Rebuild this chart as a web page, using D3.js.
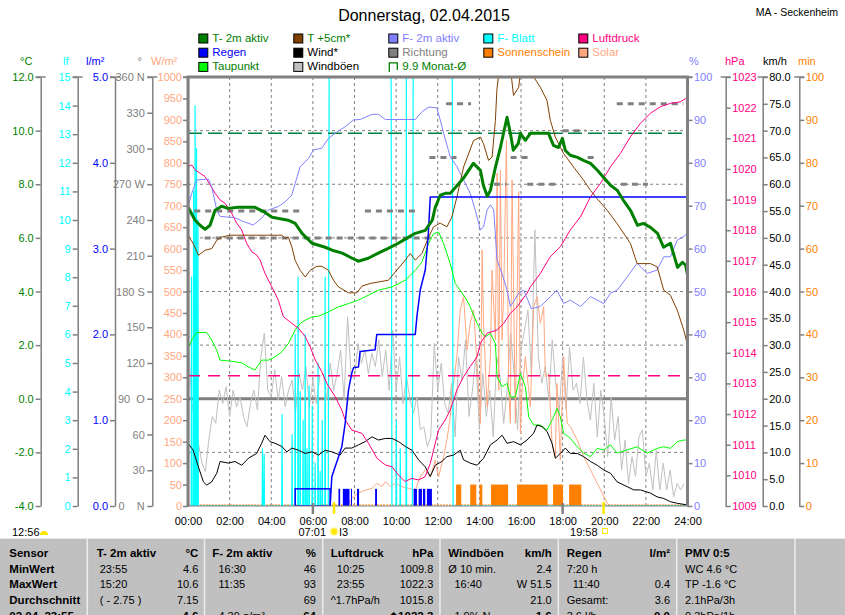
<!DOCTYPE html>
<html>
<head>
<meta charset="utf-8">
<script src="https://cdn.jsdelivr.net/npm/d3@7"></script>
<style>
body { margin: 0; background: #fff; }
svg text { font-family: "Liberation Sans", Arial, sans-serif; white-space: pre; }
</style>
</head>
<body>
<svg id="chart" width="845" height="615"></svg>
<script>
// ---- data (time in hours) ----
var hourTicks = [0, 2, 4, 6, 8, 10, 12, 14, 16, 18, 20, 22, 24];
var tempTicks = [-4, -2, 0, 2, 4, 6, 8, 10, 12];
var leafTicks = [0, 1, 2, 3, 4, 5, 6, 7, 8, 9, 10, 11, 12, 13, 14, 15];
var rainTicks = [0, 1, 2, 3, 4, 5];
var dirTicks = [0, 30, 60, 90, 120, 150, 180, 210, 240, 270, 300, 330, 360];
var solarTicks = [0, 50, 100, 150, 200, 250, 300, 350, 400, 450, 500, 550, 600, 650, 700, 750, 800, 850, 900, 950, 1000];
var pctTicks = [0, 10, 20, 30, 40, 50, 60, 70, 80, 90, 100];
var hpaTicks = [1009, 1010, 1011, 1012, 1013, 1014, 1015, 1016, 1017, 1018, 1019, 1020, 1021, 1022, 1023];
var kmhTicks = [0, 5, 10, 15, 20, 25, 30, 35, 40, 45, 50, 55, 60, 65, 70, 75, 80];
var minTicks = [0, 10, 20, 30, 40, 50, 60, 70, 80, 90, 100];
var compass = {0: "    N", 90: "  O", 180: " S", 270: " W", 360: " N"};

var t2m = [[0.00,7.15],[0.34,6.66],[0.58,6.47],[0.82,6.32],[1.06,6.47],[1.30,7.03],[1.62,7.18],[1.92,7.10],[2.41,7.14],[3.22,7.14],[3.70,6.95],[4.04,6.77],[4.81,6.66],[5.15,6.54],[5.48,6.17],[5.96,5.80],[6.59,5.65],[6.93,5.54],[7.41,5.43],[7.89,5.24],[8.18,5.13],[8.66,5.24],[9.14,5.43],[9.62,5.61],[10.10,5.80],[10.58,6.02],[10.92,6.17],[11.40,6.28],[11.74,6.66],[11.88,7.14],[12.12,7.59],[12.36,7.66],[12.60,7.66],[12.94,7.96],[13.23,8.22],[13.71,8.78],[14.05,8.52],[14.19,7.96],[14.38,7.55],[14.53,7.77],[14.77,8.63],[15.01,9.37],[15.33,10.5],[15.49,9.90],[15.63,9.27],[15.87,9.52],[15.97,9.90],[16.21,9.64],[16.45,9.90],[16.93,9.90],[17.32,9.90],[17.56,9.45],[17.80,9.37],[17.99,9.71],[18.13,9.26],[18.37,9.08],[18.71,9.00],[19.00,8.89],[19.34,8.78],[19.67,8.52],[19.96,8.26],[20.30,7.96],[20.63,7.77],[20.92,7.40],[21.26,7.03],[21.60,6.47],[21.88,6.54],[22.22,6.39],[22.56,6.17],[22.85,5.65],[23.18,5.80],[23.52,4.90],[23.76,5.09],[23.91,4.98],[24.00,4.62]];

var t5cm = [[0.00,6.10],[0.25,5.79],[0.50,5.35],[0.82,5.54],[1.14,5.60],[1.38,5.91],[1.62,6.03],[2.02,6.10],[4.51,6.10],[4.67,5.98],[4.82,6.03],[4.99,5.66],[5.15,5.16],[5.39,4.79],[5.63,4.54],[5.87,4.79],[6.19,4.94],[6.43,4.94],[6.75,4.79],[6.99,4.42],[7.23,4.17],[7.71,3.95],[8.11,3.95],[8.36,4.20],[8.75,4.30],[9.63,4.42],[9.96,4.73],[10.44,5.17],[10.68,5.42],[10.92,5.17],[11.24,5.42],[11.56,6.03],[11.80,6.41],[12.12,6.55],[12.44,6.41],[12.68,6.78],[12.92,7.52],[13.24,8.64],[13.72,9.63],[14.05,9.76],[14.20,9.51],[14.44,8.89],[14.61,9.01],[14.77,10.38],[14.84,11.50],[15.00,12.6],[15.25,13.0],[15.50,12.3],[15.64,11.31],[15.89,11.62],[16.00,12.4],[16.30,13.0],[16.61,12.0],[16.93,11.62],[17.25,11.12],[17.41,10.38],[17.65,9.76],[17.89,9.38],[18.05,9.14],[18.53,8.64],[19.01,8.15],[19.34,7.77],[19.66,7.46],[20.14,7.03],[20.62,6.53],[21.26,5.79],[21.58,5.04],[22.22,5.04],[22.54,4.92],[22.86,4.05],[23.18,3.86],[23.51,3.30],[23.82,2.56],[24.00,2.00]];

var humidity = [[0.00,69.8],[0.18,72.9],[0.42,76.0],[0.98,76.2],[1.14,74.4],[1.38,69.0],[1.54,67.5],[2.26,67.2],[2.66,66.3],[3.14,65.5],[3.54,67.1],[3.86,69.0],[4.34,69.8],[4.67,70.9],[4.99,72.5],[5.15,75.2],[5.39,79.1],[5.79,81.0],[6.03,83.0],[6.43,83.4],[6.75,85.7],[7.07,86.9],[7.55,88.4],[7.95,90.0],[8.27,90.1],[8.84,91.3],[9.15,91.3],[9.48,90.1],[10.92,90.1],[11.24,91.9],[11.58,93.0],[11.96,92.8],[12.12,90.0],[12.28,86.9],[12.60,81.4],[12.92,79.1],[13.24,76.0],[13.56,72.9],[13.80,69.0],[14.05,64.3],[14.20,65.1],[14.37,69.0],[14.53,70.2],[14.69,69.0],[14.85,57.3],[15.09,54.2],[15.33,50.3],[15.49,46.5],[15.89,49.6],[16.13,50.3],[16.50,46.0],[16.93,46.5],[17.41,48.8],[17.73,50.3],[18.05,47.2],[18.37,48.0],[18.86,46.5],[19.34,48.8],[19.98,47.2],[20.30,49.6],[20.62,50.3],[21.10,53.4],[21.58,56.6],[22.06,54.2],[22.54,55.0],[22.86,58.1],[23.18,58.1],[23.51,62.0],[23.82,62.8],[24.00,63.6]];

var pressure = [[0.00,1020.07],[0.18,1020.13],[0.34,1019.97],[0.58,1019.86],[0.82,1019.75],[1.06,1019.48],[1.30,1019.21],[1.54,1018.99],[1.78,1018.88],[2.10,1018.55],[2.34,1018.23],[2.58,1018.01],[2.82,1017.57],[3.06,1017.30],[3.30,1017.19],[3.46,1017.03],[3.70,1016.59],[4.02,1016.16],[4.34,1015.72],[4.58,1015.18],[4.99,1014.96],[5.31,1014.80],[5.63,1014.53],[5.87,1014.20],[6.11,1013.77],[6.43,1013.38],[6.67,1013.00],[7.07,1012.57],[7.39,1012.13],[7.55,1011.81],[7.87,1011.48],[8.36,1011.37],[8.67,1011.05],[9.08,1010.56],[9.48,1010.34],[9.80,1010.28],[10.12,1010.01],[10.42,1009.80],[10.76,1009.90],[11.08,1009.85],[11.40,1009.96],[11.64,1010.39],[12.04,1011.48],[12.36,1011.81],[12.60,1012.13],[12.92,1012.79],[13.24,1013.22],[13.56,1013.55],[13.89,1013.87],[14.05,1014.31],[14.37,1014.64],[14.85,1014.74],[15.17,1014.96],[15.49,1015.29],[15.81,1015.50],[16.29,1015.94],[16.45,1016.15],[16.93,1016.59],[17.41,1017.14],[17.89,1017.46],[18.37,1018.01],[18.86,1018.44],[19.34,1019.09],[19.82,1019.53],[20.30,1020.07],[20.78,1020.51],[21.26,1021.05],[21.74,1021.49],[22.22,1021.82],[22.70,1022.03],[23.18,1022.14],[23.66,1022.19],[23.92,1022.30]];

var dewPoint = [[0.00,1.88],[0.18,2.19],[0.42,2.47],[0.90,2.47],[1.14,2.19],[1.38,1.81],[1.54,1.44],[2.10,1.40],[2.58,1.34],[2.90,1.19],[3.22,1.07],[3.54,1.44],[3.86,1.44],[4.18,1.56],[4.51,1.75],[4.82,2.06],[5.15,2.56],[5.39,2.81],[5.63,2.93],[5.95,3.05],[6.27,3.08],[6.75,3.24],[7.23,3.43],[7.71,3.55],[8.19,3.68],[8.51,3.80],[9.15,4.05],[9.80,4.17],[10.44,4.42],[10.92,4.79],[11.24,5.10],[11.56,5.79],[11.80,6.16],[12.04,6.22],[12.28,5.79],[12.60,5.04],[12.84,4.30],[13.08,4.05],[13.40,3.68],[13.56,3.43],[13.89,2.81],[14.13,2.44],[14.29,2.31],[14.53,2.44],[14.77,2.06],[14.85,0.82],[15.09,0.45],[15.33,0.57],[15.49,0.07],[15.73,0.07],[15.97,0.95],[16.21,0.45],[16.37,-0.67],[16.61,-0.98],[16.93,-0.98],[17.25,-1.17],[17.57,-0.67],[17.73,-0.36],[17.89,-0.67],[18.05,-1.29],[18.37,-1.47],[18.70,-1.79],[19.01,-2.03],[19.34,-2.16],[19.66,-1.85],[19.98,-1.91],[20.30,-1.72],[20.62,-2.03],[21.10,-1.91],[21.58,-1.79],[22.06,-2.03],[22.54,-1.85],[22.86,-1.79],[23.18,-1.85],[23.51,-1.60],[23.82,-1.54],[24.00,-1.54]];

var wind = [[0.00,11.7],[0.25,10.4],[0.50,7.3],[0.74,4.5],[0.90,3.9],[1.14,4.5],[1.38,6.1],[1.54,8.3],[1.94,8.0],[2.26,8.3],[2.58,7.6],[2.90,8.9],[3.30,9.8],[3.54,11.7],[3.70,13.2],[3.94,12.0],[4.18,11.7],[4.51,11.1],[4.75,10.1],[4.99,10.8],[5.31,10.4],[5.63,9.8],[5.95,10.1],[6.27,9.5],[6.59,10.4],[6.91,10.1],[7.31,9.5],[7.55,10.8],[7.87,10.8],[8.19,11.4],[8.51,12.0],[8.84,12.9],[9.15,12.3],[9.48,12.6],[9.80,12.6],[10.12,12.0],[10.44,11.1],[10.76,10.4],[11.08,8.6],[11.40,7.3],[11.64,5.5],[11.88,7.6],[12.20,8.3],[12.44,9.2],[12.76,9.5],[13.08,10.4],[13.24,8.6],[13.56,8.0],[13.89,7.6],[14.20,8.9],[14.53,11.4],[14.85,12.3],[15.09,13.2],[15.33,11.7],[15.65,12.0],[15.97,11.4],[16.29,12.3],[16.61,13.6],[16.77,15.1],[17.01,14.8],[17.25,13.9],[17.49,11.7],[17.65,8.9],[17.89,9.8],[18.13,10.8],[18.37,9.8],[18.70,9.8],[19.01,9.2],[19.34,8.3],[19.66,7.6],[19.98,6.7],[20.30,6.1],[20.62,4.5],[21.10,3.6],[21.42,3.0],[21.74,3.0],[22.22,2.4],[22.54,1.7],[22.86,1.4],[23.18,0.8],[23.51,0.5],[23.99,0.2]];

// gusts, one value every 10 minutes from 00:00
var gustStepMin = 10;
var gusts = [32.2,19.8,15.4,11.7,8.0,6.4,12.3,16.7,15.4,21.6,19.1,22.3,16.7,21.6,18.5,20.4,16.7,14.8,19.1,21.6,17.9,27.8,32.2,21.6,
  20.4,25.4,19.8,24.1,18.5,21.6,23.5,17.3,24.7,21.6,26.0,18.5,23.5,19.1,24.1,24.7,19.8,26.6,21.6,24.7,29.1,19.8,35.3,24.7,
  23.5,30.3,26.6,29.1,24.7,28.5,26.0,31.0,24.1,29.1,21.6,32.8,21.6,27.8,19.1,24.1,19.8,17.3,20.4,14.2,14.8,11.1,12.9,
  30.3,21.6,26.6,19.1,
  17.3,22.9,12.9,27.8,23.5,31.0,16.7,21.6,27.8,14.2,24.7,16.7,21.6,12.9,27.8,
  24.1,15.4,21.6,32.2,24.7,14.2,29.1,32.8,36.5,24.7,51.5,27.8,22.9,26.0,19.8,31.0,22.9,17.3,27.8,17.9,29.7,21.6,22.9,19.1,
  27.8,19.8,16.0,22.9,12.9,21.6,16.7,9.2,20.4,12.3,16.7,6.7,12.3,4.2,9.2,5.5,12.9,14.2,5.5,8.0,3.0,10.4,3.0,8.0,
  3.0,6.7,1.7,4.2,3.0,4.2];

var solar = [[0,0],[7.70,0],[7.87,18],[8.19,30],[8.51,37],[8.84,41],[9.08,53],[9.32,45],[9.48,57],[9.72,45],[9.96,53],[10.28,45],[10.60,41],[10.92,37],[11.16,68],[11.40,84],[11.64,68],[11.80,92],[11.88,107],[12.04,68],[12.28,115],[12.44,154],[12.60,208],[12.68,270],[12.76,286],[12.92,348],[13.08,457],[13.24,488],[13.41,364],[13.56,426],[13.72,457],[13.89,333],[14.05,193],[14.13,597],[14.20,426],[14.37,231],[14.53,348],[14.61,550],[14.77,387],[14.85,776],[14.93,270],[15.01,783],[15.09,387],[15.17,500],[15.30,853],[15.41,270],[15.49,193],[15.57,760],[15.73,193],[15.89,733],[15.97,169],[16.05,270],[16.21,348],[16.45,231],[16.61,465],[16.77,488],[16.93,426],[17.09,465],[17.17,301],[17.33,309],[17.49,146],[17.65,115],[17.73,286],[17.89,107],[18.05,348],[18.22,193],[18.37,185],[18.70,154],[19.01,115],[19.34,84],[19.66,53],[19.98,22],[20.14,6],[20.30,0],[24,0]];

// rain: cumulative l/m², rain periods, light-rain period
var rainSum = [[6.83,0],[6.91,0.34],[6.99,0.40],[7.23,0.57],[7.39,0.69],[7.55,0.96],[7.71,1.35],[7.87,1.55],[7.95,1.61],[8.19,1.62],[8.27,1.80],[8.99,1.82],[9.07,2.00],[10.92,2.00],[11.00,2.21],[11.16,2.52],[11.40,2.75],[11.54,3.14],[11.64,3.60],[24,3.60]];
var rainBars = [[7.23,7.31],[7.44,7.76],[7.83,7.88],[8.12,8.22],[8.99,9.08],[10.84,11.00],[11.08,11.24],[11.29,11.40],[11.48,11.72]];
var rainBox = [5.15, 6.83];
var rainBarValue = 0.2;

// sunshine minutes per 5 min slot
var sunBars = [[12.88,13.13],[13.56,13.85],[14.01,14.14],[14.56,15.38],[15.81,17.28],[17.54,18.02],[18.31,18.90]];
var sunBarValue = 5;

// leaf wetness: single spikes and wet periods (lf)
var leafSpikeT = [0.17,0.27,0.34,0.41,0.48,3.58,3.66,4.52,5.00,5.15,5.29,5.39,5.53,5.63,5.72,5.82,5.97,6.11,6.25,6.35,6.45,6.59,10.01,10.20,10.49];
var leafSpikeV = [8,11,14,12.5,10,2,1.8,3.2,2.5,6,8,4,3,6,2,4.2,3.5,1.5,5,1.2,3,8,3,2,15];
var leafWet = [[6.78,9.76],[10.82,12.70]];

// wind direction segments [from, to, degrees]
var dirSegs = [[0.3,5.5,247.5],[8.5,11.0,247.5],[0.8,11.9,225],[11.6,12.9,292.5],[15.5,16.4,292.5],[19.2,19.7,292.5],[14.7,15.3,270],[16.3,17.7,270],[20.8,22.1,270],[18.0,19.1,315],[12.4,13.6,337.5],[20.6,23.8,337.5]];

var monthAvgT = 9.9;
var refPressure = 1013.25;
var sunrise = 7 + 1 / 60, sunset = 19 + 58 / 60;

var tblHead = ["Sensor", "T- 2m aktiv", "F- 2m aktiv", "Luftdruck", "Windböen", "Regen", "PMV 0:5"];
var tblUnit = ["", "°C", "%", "hPa", "km/h", "l/m²", ""];
var tblRows = [
  ["MinWert", " 23:55", "4.6", "  16:30", "46", "  10:25", "1009.8", "Ø 10 min.", "2.4", "7:20 h", "", "WC 4.6 °C"],
  ["MaxWert", " 15:20", "10.6", "  11:35", "93", "  23:55", "1022.3", "  16:40", "W 51.5", "  11:40", "0.4", "TP -1.6 °C"],
  ["Durchschnitt", " ( - 2.75 )", "7.15", "", "69", "^1.7hPa/h", "1015.8", "", "21.0", "Gesamt:", "3.6", "2.1hPa/3h"],
  ["02.04. 23:55", "", "4.6", "  4.39 g/m³", "64", "", "◆1022.3", "  1.9% N", "1.6", "3.6 l/h", "0.0", "0.3hPa/1h"]
];

var legNames = ["T- 2m aktiv", "T +5cm*", "F- 2m aktiv", "F- Blatt", "Luftdruck",
                "Regen", "Wind*", "Richtung", "Sonnenschein", "Solar",
                "Taupunkt", "Windböen", "9.9 Monat-Ø"];
var legFill = ["#008000", "#804000", "#8080FF", "#00FFFF", "#FF0080",
               "#0000FF", "#000000", "#808080", "#FF8000", "#FFA880",
               "#00FF00", "#C0C0C0", null];
var legInk = ["#008000", "#008000", "#8080FF", "#00FFFF", "#FF0080",
              "#0000FF", "#000000", "#808080", "#FF8000", "#FFA880",
              "#008000", "#000000", "#008000"];

// ---- scales ----
var pTop = 77, pBottom = 506, pLeft = 188, pRight = 687.5;
var x = d3.scaleLinear().domain([0, 24]).range([pLeft, pRight]);
var yT = d3.scaleLinear().domain([-4, 12]).range([pBottom, pTop]);
var yLf = d3.scaleLinear().domain([0, 15]).range([pBottom, pTop]);
var yRain = d3.scaleLinear().domain([0, 5]).range([pBottom, pTop]);
var yDir = d3.scaleLinear().domain([0, 360]).range([pBottom, pTop]);
var ySol = d3.scaleLinear().domain([0, 1000]).range([pBottom, pTop]);
var yPct = d3.scaleLinear().domain([0, 100]).range([pBottom, pTop]);
var yHpa = d3.scaleLinear().domain([1009, 1023]).range([pBottom, pTop]);
var yKmh = d3.scaleLinear().domain([0, 80]).range([pBottom, pTop]);
var yMin = d3.scaleLinear().domain([0, 100]).range([pBottom, pTop]);

var svg = d3.select("#chart");
var FONT = "'Liberation Sans', Arial, sans-serif";

function txt(g, px, py, s, color, size, anchor, weight) {
  return g.append("text").attr("x", px).attr("y", py).text(s)
    .attr("fill", color).attr("font-size", size)
    .attr("text-anchor", anchor || "start")
    .attr("font-weight", weight || "normal");
}

// ---- title ----
txt(svg, 424, 21, "Donnerstag, 02.04.2015", "#000", 16, "middle");
txt(svg, 838, 16, "MA - Seckenheim", "#000", 10.5, "end");

// ---- legend ----
legNames.forEach(function(name, i) {
  var lx = 198.3 + (i % 5) * 95, ly = 33.5 + Math.floor(i / 5) * 14.2;
  if (legFill[i]) {
    svg.append("rect").attr("x", lx + 0.5).attr("y", ly + 0.5).attr("width", 9).attr("height", 9)
      .attr("fill", legFill[i]).attr("stroke", "#000");
  } else {
    svg.append("path").attr("d", "M" + (lx + 1) + "," + (ly + 10) + "V" + (ly + 1) + "H" + (lx + 9) + "V" + (ly + 8))
      .attr("fill", "none").attr("stroke", "#008000").attr("stroke-width", 1.3);
  }
  txt(svg, lx + 14, ly + 8.5, name, legInk[i], 11.5);
});

// ---- axes ----
function vAxis(xPos, scale, ticks, fmt, color, side, pad) {
  var ax = (side === "left" ? d3.axisLeft(scale) : d3.axisRight(scale))
    .tickValues(ticks).tickFormat(fmt).tickSize(5).tickSizeOuter(0).tickPadding(pad);
  var g = svg.append("g").attr("transform", "translate(" + xPos + ",0)").call(ax)
    .attr("font-family", FONT).attr("font-size", 11);
  g.select(".domain").attr("stroke", "#808080").attr("stroke-width", 1.5);
  g.selectAll(".tick line").attr("stroke", "#808080").attr("stroke-width", 1.5);
  g.selectAll(".tick text").attr("fill", color);
  g.append("line").attr("x1", -5).attr("x2", 5).attr("y1", pTop).attr("y2", pTop)
    .attr("stroke", "#808080").attr("stroke-width", 1.5);
  return g;
}
var f1 = function(d) { return d.toFixed(1); };
var f0 = function(d) { return String(d); };
vAxis(40.7, yT, tempTicks, f1, "#008000", "left", 2);
vAxis(77.7, yLf, leafTicks, f0, "#00FFFF", "left", 2);
vAxis(115, yRain, rainTicks, f1, "#0000FF", "left", 2);
vAxis(152.3, yDir, dirTicks, function(d) { return d + (compass[d] || ""); }, "#808080", "left", 2.5);
vAxis(188, ySol, solarTicks, f0, "#FFA880", "left", 1);
vAxis(687.5, yPct, pctTicks, f0, "#8080FF", "right", 1.5);
vAxis(725.7, yHpa, hpaTicks, f0, "#FF0080", "right", 1.5);
vAxis(762.7, yKmh, kmhTicks, f1, "#000000", "right", 1.5);
vAxis(799.3, yMin, minTicks, f0, "#FF8000", "right", 1.5);

var heads = [[20, "°C", "#008000"], [63, "lf", "#00FFFF"], [86, "l/m²", "#0000FF"], [137.5, "°", "#808080"],
             [151, "W/m²", "#FFA880"], [689, "%", "#8080FF"], [725, "hPa", "#FF0080"],
             [763, "km/h", "#000000"], [798, "min", "#FF8000"]];
heads.forEach(function(h) { txt(svg, h[0], 65, h[1], h[2], 11); });

// x axis labels
var xg = svg.append("g").attr("transform", "translate(0," + pBottom + ")")
  .call(d3.axisBottom(x).tickValues(hourTicks).tickSize(0).tickPadding(11)
    .tickFormat(function(d) { return (d < 10 ? "0" : "") + d + ":00"; }))
  .attr("font-family", FONT).attr("font-size", 11);
xg.select(".domain").remove();
xg.selectAll(".tick text").attr("fill", "#000");

// ---- plot area ----
svg.append("clipPath").attr("id", "plot").append("rect")
  .attr("x", pLeft).attr("y", pTop).attr("width", pRight - pLeft).attr("height", pBottom - pTop);
var plot = svg.append("g").attr("clip-path", "url(#plot)");

// grid
plot.selectAll(".vgrid").data(hourTicks.slice(1, -1)).enter().append("line")
  .attr("x1", function(d) { return x(d); }).attr("x2", function(d) { return x(d); })
  .attr("y1", pTop).attr("y2", pBottom)
  .attr("stroke", "#808080").attr("stroke-dasharray", "3,3");
plot.selectAll(".hgrid").data(tempTicks.filter(function(d) { return d !== 0 && d > -4 && d < 12; })).enter().append("line")
  .attr("x1", pLeft).attr("x2", pRight)
  .attr("y1", function(d) { return yT(d); }).attr("y2", function(d) { return yT(d); })
  .attr("stroke", "#808080").attr("stroke-dasharray", "3,3");
plot.append("line").attr("x1", pLeft).attr("x2", pRight).attr("y1", yT(0)).attr("y2", yT(0))
  .attr("stroke", "#808080").attr("stroke-width", 3);

function drawLine(data, ys, color, width) {
  plot.append("path").datum(data)
    .attr("d", d3.line().x(function(d) { return x(d[0]); }).y(function(d) { return ys(d[1]); }))
    .attr("fill", "none").attr("stroke", color).attr("stroke-width", width)
    .attr("stroke-linejoin", "round");
}

// gusts
drawLine(gusts.map(function(v, j) { return [j * gustStepMin / 60, v]; }), yKmh, "#C0C0C0", 1);
// solar
drawLine(solar, ySol, "#FFA880", 1);
// sunshine bars
plot.selectAll(".sun").data(sunBars).enter().append("rect")
  .attr("x", function(d) { return x(d[0]); }).attr("width", function(d) { return x(d[1]) - x(d[0]); })
  .attr("y", yMin(sunBarValue)).attr("height", yMin(0) - yMin(sunBarValue))
  .attr("fill", "#FF8000");
plot.append("line").attr("x1", pLeft).attr("x2", pRight).attr("y1", pBottom - 1).attr("y2", pBottom - 1)
  .attr("stroke", "#FF8000").attr("stroke-dasharray", "2,1");

// leaf wetness
var leafPts = [[0, 0], [24, 0]];
leafSpikeT.forEach(function(t, i) { leafPts.push([t - 0.015, 0], [t, leafSpikeV[i]], [t + 0.015, 0]); });
leafWet.forEach(function(p) { leafPts.push([p[0] - 0.04, 0], [p[0], 15], [p[1], 15], [p[1] + 0.04, 0]); });
leafPts.sort(function(a, b) { return a[0] - b[0]; });
drawLine(leafPts, yLf, "#00FFFF", 1.2);

// rain bars
plot.selectAll(".rain").data(rainBars).enter().append("rect")
  .attr("x", function(d) { return x(d[0]); }).attr("width", function(d) { return x(d[1]) - x(d[0]); })
  .attr("y", yRain(rainBarValue)).attr("height", yRain(0) - yRain(rainBarValue))
  .attr("fill", "#0000FF");
plot.append("rect").attr("x", x(rainBox[0])).attr("width", x(rainBox[1]) - x(rainBox[0]))
  .attr("y", yRain(rainBarValue)).attr("height", yRain(0) - yRain(rainBarValue))
  .attr("fill", "none").attr("stroke", "#0000FF").attr("stroke-width", 1.5);

// wind direction
plot.selectAll(".dir").data(dirSegs).enter().append("line")
  .attr("x1", function(d) { return x(d[0]); }).attr("x2", function(d) { return x(d[1]); })
  .attr("y1", function(d) { return yDir(d[2]); }).attr("y2", function(d) { return yDir(d[2]); })
  .attr("stroke", "#808080").attr("stroke-width", 3).attr("stroke-dasharray", "6,5");

// reference lines
plot.append("line").attr("x1", pLeft).attr("x2", pRight).attr("y1", yT(monthAvgT)).attr("y2", yT(monthAvgT))
  .attr("stroke", "#008040").attr("stroke-width", 1.5).attr("stroke-dasharray", "14,6");
plot.append("line").attr("x1", pLeft).attr("x2", pRight).attr("y1", yHpa(refPressure)).attr("y2", yHpa(refPressure))
  .attr("stroke", "#FF0080").attr("stroke-width", 1.3).attr("stroke-dasharray", "12,8");

drawLine(dewPoint, yT, "#00FF00", 1);
drawLine(wind, yKmh, "#000000", 1);
drawLine(pressure, yHpa, "#FF0080", 1);
drawLine(humidity, yPct, "#8080FF", 1);
drawLine(t5cm, yT, "#804000", 1);
drawLine(rainSum, yRain, "#0000FF", 1.5);
drawLine(t2m, yT, "#008000", 3);

// frame
svg.append("path").attr("d", "M" + pLeft + "," + pBottom + "V" + pTop + "H" + pRight + "V" + pBottom)
  .attr("fill", "none").attr("stroke", "#808080").attr("stroke-width", 3);
svg.append("line").attr("x1", pLeft).attr("x2", pRight).attr("y1", pBottom).attr("y2", pBottom)
  .attr("stroke", "#808080").attr("stroke-width", 1);

// marks under the time axis
[6, 18].forEach(function(h) {
  svg.append("line").attr("x1", x(h)).attr("x2", x(h)).attr("y1", pBottom - 3).attr("y2", pBottom + 8)
    .attr("stroke", "#808080").attr("stroke-width", 2.5);
});
[sunrise, sunset].forEach(function(h) {
  svg.append("line").attr("x1", x(h)).attr("x2", x(h)).attr("y1", pBottom - 4).attr("y2", pBottom + 8)
    .attr("stroke", "#FFE800").attr("stroke-width", 2.5);
});
txt(svg, 12, 535.5, "12:56", "#000", 11);
svg.append("path").attr("d", "M40,535 a4,4 0 0 1 8,0 Z").attr("fill", "#FFE800");
txt(svg, x(sunrise) - 8, 535.5, "07:01", "#000", 11, "end");
svg.append("circle").attr("cx", x(sunrise)).attr("cy", 531.5).attr("r", 3.5).attr("fill", "#FFE800")
  .attr("stroke", "#FFF080").attr("stroke-width", 2).attr("stroke-dasharray", "1,1");
txt(svg, x(sunrise) + 5, 535.5, "I3", "#000", 11);
txt(svg, x(sunset) - 6, 535.5, "19:58", "#000", 11, "end");
svg.append("rect").attr("x", x(sunset) - 1).attr("y", 528.5).attr("width", 5).attr("height", 5)
  .attr("fill", "none").attr("stroke", "#FFE800");

// ---- table ----
var tb = svg.append("g");
tb.append("rect").attr("x", 0).attr("y", 538).attr("width", 845).attr("height", 77).attr("fill", "#C0C0C0");
tb.append("line").attr("x1", 0).attr("x2", 845).attr("y1", 538.5).attr("y2", 538.5).attr("stroke", "#E8E8E8");
[87.3, 204.5, 322.7, 440, 558.3, 676.7, 795].forEach(function(sx) {
  tb.append("line").attr("x1", sx).attr("x2", sx).attr("y1", 538).attr("y2", 615)
    .attr("stroke", "#EDEDED").attr("stroke-width", 1.5);
});
var colL = [9.3, 96.7, 212.3, 330.7, 448.3, 566.7, 685];
var colR = [0, 198.3, 316, 433.3, 551.7, 670, 0];
var rowY = [557, 572.5, 588, 604, 620];
tblHead.forEach(function(h, c) {
  txt(tb, colL[c], rowY[0], h, "#000", 11.5, "start", "bold");
  if (tblUnit[c]) txt(tb, colR[c], rowY[0], tblUnit[c], "#000", 11.5, "end", "bold");
});
tblRows.forEach(function(r, i) {
  var y = rowY[i + 1], last = i === 3;
  txt(tb, colL[0], y, r[0], "#000", 11.5, "start", "bold");
  for (var c = 1; c <= 5; c++) {
    txt(tb, colL[c], y, r[2 * c - 1], "#000", 11);
    txt(tb, colR[c], y, r[2 * c], "#000", last ? 11.5 : 11, "end", last ? "bold" : "normal");
  }
  txt(tb, colL[6], y, r[11], "#000", 11);
});
</script>
</body>
</html>
